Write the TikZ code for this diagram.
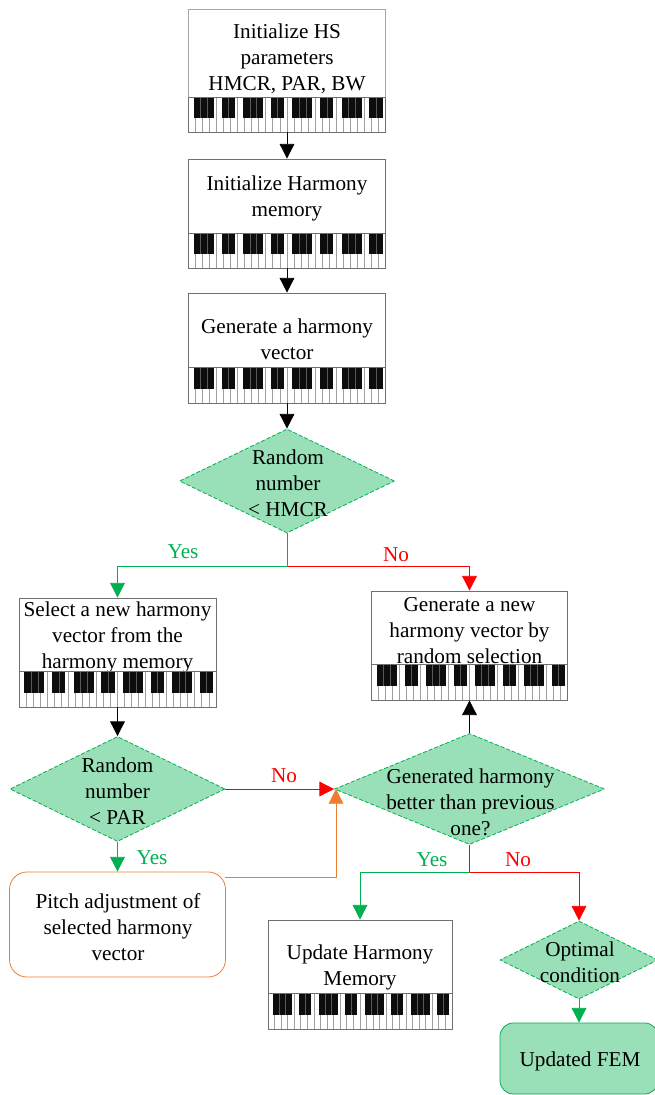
\documentclass[tikz,border=0pt]{standalone}
\usepackage{fontspec}
\setmainfont{Liberation Serif}
\usetikzlibrary{arrows.meta,shapes.geometric}
\definecolor{dgreen}{HTML}{00B050}
\definecolor{lgreen}{HTML}{99DFB8}
\definecolor{dorange}{HTML}{ED7D31}
\definecolor{edge}{HTML}{707070}
\newcommand\pianokeys[4]{%
  \pgfmathsetmacro\pkw{(#2-#1)/28*0.75}%
  \pgfmathsetmacro\pkh{(#4-#3)*0.75}%
  \begin{scope}[shift={(#1,#3)},x=\pkw pt,y=-\pkh pt]
    \fill[white] (0,0) rectangle (28,1);
    \foreach \i in {1,...,27} \draw[gray!75,line width=0.7pt] (\i,0) -- (\i,1);
    \foreach \p in {0,7,14,21} {
      \fill[black!95] (\p+0.77,0) rectangle (\p+3.6,0.6);
      \fill[black!95] (\p+4.72,0) rectangle (\p+6.6,0.6);
      \foreach \k in {1.72,2.66,5.66}
        \draw[black!65,line width=0.3pt] (\p+\k,0) -- (\p+\k,0.6);
    }
    \draw[edge,line width=0.6pt] (0,0) rectangle (28,1);
  \end{scope}}
\tikzset{
  x=0.75pt,y=-0.75pt,
  lbl/.style={font=\fontsize{15.9}{19.4}\selectfont,align=center,inner sep=0pt,text=black},
  boxn/.style={draw=edge,line width=0.6pt,fill=white,inner sep=0pt,minimum width=#1*0.75pt},
  dia/.style n args={2}{diamond,draw=dgreen,dashed,dash pattern=on 3pt off 1.5pt,line width=0.6pt,fill=lgreen,inner sep=0pt,minimum width=#1*0.75pt,minimum height=#2*0.75pt},
  conn/.style={line width=0.6pt,-{Triangle[length=11pt,width=11pt]}},
  plainl/.style={line width=0.6pt},
  yes/.style={text=dgreen},
  no/.style={text=red}
}
\begin{document}
\begin{tikzpicture}
\useasboundingbox (0,0) rectangle (654,1095);
% boxes
\node[boxn=197,draw=gray!70,minimum height=123*0.75pt] (b1) at (287,70.5) {};
\node[lbl] (t1) at (287,58.5) {Initialize HS\\parameters\\HMCR, PAR, BW};
\pianokeys{188.5}{385.5}{97}{132.5}
\node[boxn=197,minimum height=109*0.75pt] (b2) at (287,213.5) {};
\node[lbl] (t2) at (287,198) {Initialize Harmony\\memory};
\pianokeys{188.5}{385.5}{233}{268}
\node[boxn=197,minimum height=110*0.75pt] (b3) at (287,348) {};
\node[lbl] (t3) at (287,339) {Generate a harmony\\vector};
\pianokeys{188.5}{385.5}{367}{403}
\node[boxn=197,minimum height=109*0.75pt] (b4) at (117.5,652.5) {};
\node[lbl] (t4) at (117.5,637.5) {Select a new harmony\\vector from the\\harmony memory};
\pianokeys{19}{216}{671}{707}
\node[boxn=196,minimum height=109*0.75pt] (b5) at (469.5,645.5) {};
\node[lbl] (t5) at (469.5,630.5) {Generate a new\\harmony vector by\\random selection};
\pianokeys{371.5}{567.5}{664}{700}
\node[boxn=184,minimum height=109*0.75pt] (b6) at (360,974.5) {};
\node[lbl] (t6) at (360,967) {Update Harmony\\Memory};
\pianokeys{268}{452}{993}{1029}
% diamonds
\node[dia={215}{104}] (d1) at (287,481) {};
\node[lbl] (t7) at (288,483) {Random\\number\\< HMCR};
\node[dia={215}{105}] (d2) at (117.5,789) {};
\node[lbl] (t8) at (117.5,791) {Random\\number\\< PAR};
\node[dia={270}{111}] (d3) at (469.5,789) {};
\node[lbl] (t9) at (470.5,802) {Generated harmony\\better than previous\\one?};
\node[dia={158}{78}] (d4) at (579,960) {};
\node[lbl] (t10) at (580,962.5) {Optimal\\condition};
% rounded boxes
\node[draw=dorange,line width=0.6pt,fill=white,rounded corners=13pt,inner sep=0pt,minimum width=216*0.75pt,minimum height=105*0.75pt] (r1) at (117.5,924.5) {};
\node[lbl] (t11) at (118,927) {Pitch adjustment of\\selected harmony\\vector};
\node[draw=dgreen,line width=0.6pt,fill=lgreen,rounded corners=10pt,inner sep=0pt,minimum width=158*0.75pt,minimum height=71*0.75pt] (r2) at (579,1058.5) {};
\node[lbl] (t12) at (580,1061) {Updated FEM};
% helpers
\coordinate (j1) at (287,566);
\coordinate (j2) at (469.5,872);
\coordinate (c1) at (225,877);
% connectors
\draw[conn] (b1.south) -- (b2.north);
\draw[conn] (b2.south) -- (b3.north);
\draw[conn] (b3.south) -- (d1.north);
\draw[conn] (b4.south) -- (d2.north);
\draw[conn] (d3.north) -- (b5.south);
\draw[conn,dgreen] (d2.south) -- (r1.north);
\draw[conn,red] (j1) -| (b5.north);
\draw[conn,dgreen] (d1.south) -- (j1) -| (b4.north);
\draw[conn,red] (d2.east) -- (d3.west);
\draw[conn,dorange] (c1) -| (336,789);
\draw[conn,dgreen] (j2) -| (b6.north);
\draw[conn,red] (j2) -| (d4.north);
\draw[plainl,red] (d3.south) -- (j2);
\draw[conn,dgreen] (d4.south) -- (r2.north);
% labels
\node[lbl,yes] (l1) at (183,552) {Yes};
\node[lbl,no] (l2) at (396,555) {No};
\node[lbl,no] (l3) at (284,776) {No};
\node[lbl,yes] (l4) at (152,858) {Yes};
\node[lbl,yes] (l5) at (432,860) {Yes};
\node[lbl,no] (l6) at (518,860) {No};
\end{tikzpicture}
\end{document}
